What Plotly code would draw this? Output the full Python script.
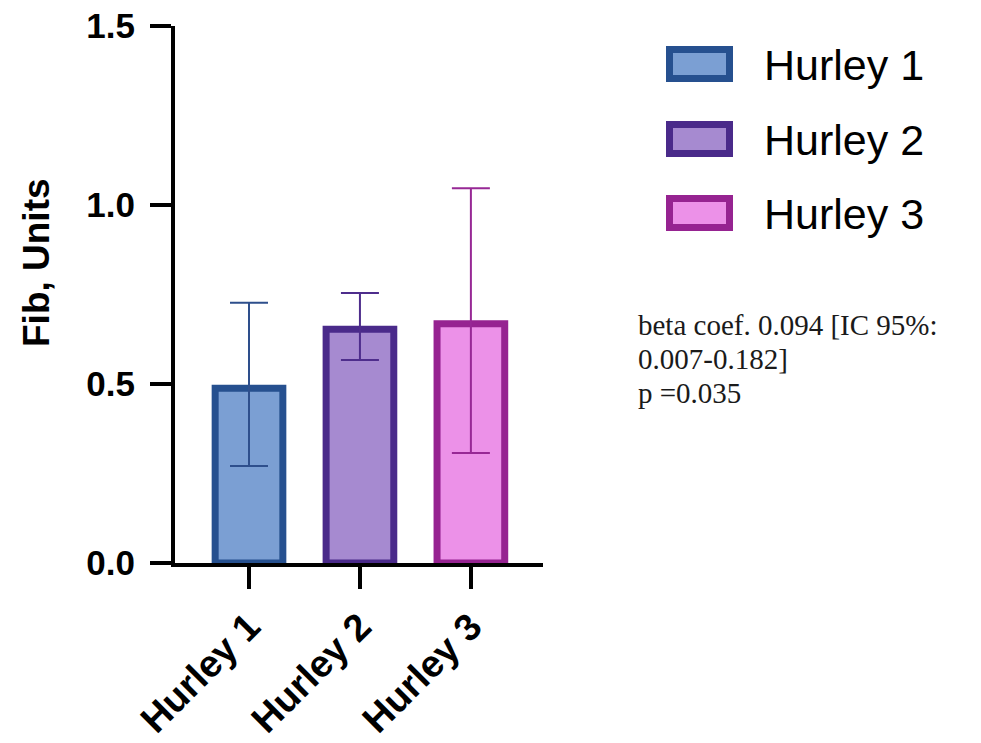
import plotly.graph_objects as go

# ---- data ----
categories = ["Hurley 1", "Hurley 2", "Hurley 3"]
means = [0.488, 0.653, 0.668]
upper = [0.727, 0.754, 1.047]
lower = [0.271, 0.567, 0.307]
fill_colors = ["#7B9FD3", "#A68AD0", "#EC91E8"]
line_colors = ["#26508F", "#4A2A8A", "#962391"]
err_colors = ["#2E4F8C", "#4E2D8C", "#972895"]
y_ticks = [0.0, 0.5, 1.0, 1.5]
y_tick_labels = ["0.0", "0.5", "1.0", "1.5"]
y_title = "Fib, Units"
stat_lines = ["beta coef. 0.094 [IC 95%:", "0.007-0.182]", "p =0.035"]

W, H = 981, 743
L, R, T, B = 175, 438, 26, 180
PW, PH = W - L - R, H - T - B


def px(x):
    return (x - L) / PW


def py(y):
    return (H - B - y) / PH


fig = go.Figure()
for i, c in enumerate(categories):
    fig.add_trace(go.Bar(
        x=[c], y=[means[i]], width=0.61,
        marker=dict(color=fill_colors[i], line=dict(color=line_colors[i], width=7)),
        error_y=dict(type="data", symmetric=False,
                     array=[upper[i] - means[i]], arrayminus=[means[i] - lower[i]],
                     color=err_colors[i], thickness=2, width=19),
        name=c, showlegend=False,
    ))

font_family = "Liberation Sans, Arial, sans-serif"

fig.update_layout(
    width=W, height=H,
    margin=dict(l=L, r=R, t=T, b=B, autoexpand=False),
    paper_bgcolor="white", plot_bgcolor="white",
    barmode="overlay",
    xaxis=dict(range=[-0.667, 2.65], showline=True, linecolor="black", linewidth=4,
               ticks="outside", ticklen=22, tickwidth=4, tickcolor="black",
               tickangle=-45, showgrid=False, zeroline=False, automargin=False,
               tickfont=dict(family=font_family, size=38, color="black", weight="bold")),
    yaxis=dict(range=[0, 1.5], showline=True, linecolor="black", linewidth=4,
               ticks="outside", ticklen=21, tickwidth=4, tickcolor="black",
               tickvals=y_ticks, ticktext=y_tick_labels, ticklabelstandoff=8,
               showgrid=False, zeroline=False, automargin=False,
               tickfont=dict(family=font_family, size=35, color="black", weight="bold")),
)

annotations = [dict(
    text=y_title, textangle=-90, xref="paper", yref="paper",
    x=px(36), y=py(263), xanchor="center", yanchor="middle", showarrow=False,
    font=dict(family=font_family, size=37, color="black", weight="bold"))]

shapes = []
row_centers = [64, 139, 213]
for i, c in enumerate(categories):
    yc = row_centers[i]
    shapes.append(dict(type="rect", xref="paper", yref="paper",
                       x0=px(669.5), x1=px(729.5), y0=py(yc + 14.5), y1=py(yc - 14.5),
                       fillcolor=fill_colors[i], line=dict(color=line_colors[i], width=7)))
    annotations.append(dict(text=c, xref="paper", yref="paper", x=px(762), y=py(yc + 1),
                            xanchor="left", yanchor="middle", showarrow=False,
                            font=dict(family=font_family, size=43, color="black")))

for j, line in enumerate(stat_lines):
    annotations.append(dict(text=line, xref="paper", yref="paper", x=px(636), y=py(325 + 34 * j),
                            xanchor="left", yanchor="middle", showarrow=False,
                            font=dict(family="Liberation Serif, Times New Roman, serif",
                                      size=29, color="#1a1a1a")))

fig.update_layout(annotations=annotations, shapes=shapes)
fig.write_html("out.html")
